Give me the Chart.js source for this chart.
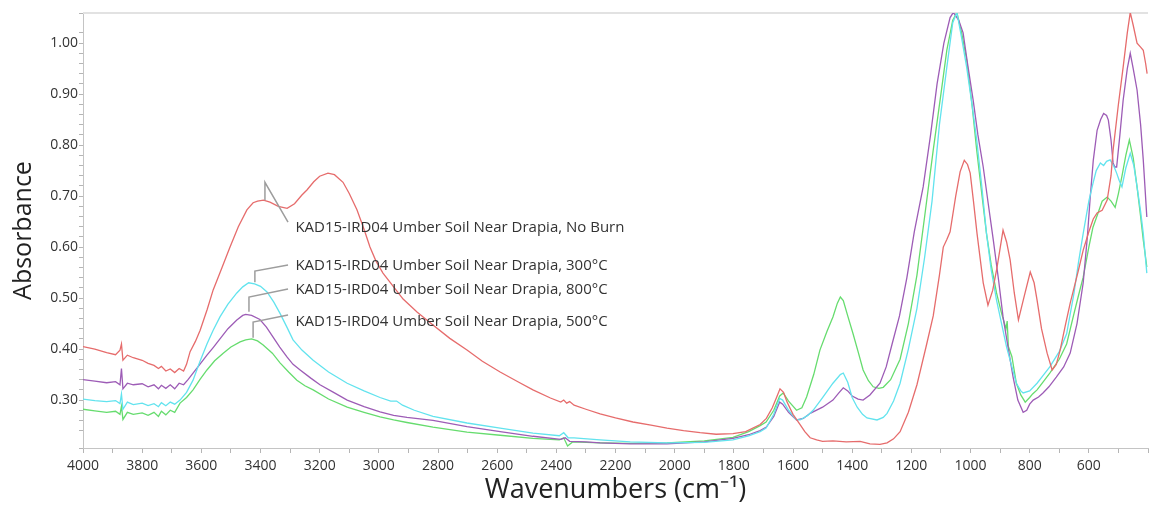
<!DOCTYPE html>
<html>
<head>
<meta charset="utf-8">
<title>KAD15-IRD04 FTIR spectra</title>
<script src="https://cdn.jsdelivr.net/npm/chart.js@4.4.1/dist/chart.umd.min.js"></script>
<style>
  html, body { margin: 0; padding: 0; background: #fff; }
  #wrap { width: 1153px; height: 507px; }
</style>
</head>
<body>
<div id="wrap"><canvas id="spectrum" width="1153" height="507"></canvas></div>
<script>
// Spectra, wavenumbers descending (cm-1) with absorbance

// No Burn (red)
const noBurnWn = [4000,3960,3920,3890,3875,3870,3865,3850,3830,3800,3780,3760,3745,3735,3720,3705,3690,3675,3660,3650,3638,3620,3604,3580,3560,3530,3503,3475,3446,3425,3410,3390,3368,3340,3310,3285,3260,3243,3220,3200,3172,3150,3121,3100,3074,3050,3030,3010,2986,2950,2918,2870,2817,2760,2702,2650,2590,2530,2479,2420,2385,2375,2365,2355,2340,2300,2252,2200,2141,2080,2026,1970,1914,1860,1803,1760,1711,1690,1670,1655,1644,1632,1620,1600,1576,1560,1542,1520,1500,1465,1420,1373,1340,1306,1282,1260,1238,1210,1181,1150,1126,1105,1092,1080,1069,1050,1035,1021,1010,1001,990,978,957,941,925,910,890,878,866,852,838,820,798,785,775,760,741,724,710,697,680,663,650,635,619,600,585,572,555,538,525,518,500,484,470,460,450,437,425,416,408,403];
const noBurnAbs = [0.405,0.400,0.393,0.389,0.398,0.410,0.378,0.388,0.383,0.378,0.372,0.368,0.362,0.366,0.357,0.361,0.354,0.362,0.357,0.370,0.395,0.415,0.437,0.478,0.516,0.560,0.600,0.640,0.673,0.687,0.690,0.692,0.688,0.680,0.676,0.685,0.702,0.712,0.728,0.739,0.745,0.742,0.727,0.705,0.673,0.635,0.600,0.573,0.549,0.522,0.498,0.472,0.447,0.421,0.398,0.376,0.355,0.336,0.320,0.304,0.296,0.300,0.294,0.297,0.290,0.282,0.273,0.265,0.257,0.251,0.245,0.240,0.236,0.233,0.234,0.238,0.252,0.264,0.285,0.306,0.322,0.315,0.296,0.272,0.252,0.238,0.226,0.222,0.219,0.220,0.218,0.219,0.214,0.213,0.216,0.224,0.238,0.276,0.330,0.405,0.465,0.545,0.600,0.615,0.630,0.700,0.748,0.770,0.762,0.745,0.690,0.627,0.530,0.486,0.515,0.561,0.633,0.610,0.575,0.510,0.457,0.500,0.551,0.530,0.496,0.440,0.392,0.359,0.370,0.398,0.445,0.490,0.520,0.555,0.594,0.630,0.655,0.667,0.672,0.692,0.740,0.790,0.880,0.953,1.020,1.060,1.035,1.000,0.992,0.986,0.960,0.940];

// 300°C (cyan)
const burn300Wn = [4000,3960,3920,3890,3875,3870,3865,3850,3830,3800,3780,3760,3745,3735,3720,3705,3690,3672,3650,3628,3605,3581,3560,3537,3510,3480,3460,3440,3420,3400,3378,3355,3334,3310,3290,3260,3222,3170,3107,3050,2996,2960,2940,2920,2880,2817,2702,2590,2479,2390,2375,2360,2340,2252,2150,2026,1900,1803,1750,1711,1691,1665,1645,1635,1615,1590,1576,1550,1532,1500,1465,1440,1430,1415,1400,1383,1365,1350,1316,1295,1282,1260,1238,1210,1181,1155,1130,1105,1080,1060,1046,1030,1013,995,979,962,946,930,912,895,878,860,845,830,822,800,775,755,732,700,675,650,635,619,600,586,575,561,550,540,528,515,506,497,488,475,460,448,437,425,416,404];
const burn300Abs = [0.302,0.299,0.297,0.299,0.293,0.312,0.282,0.296,0.291,0.294,0.289,0.293,0.287,0.295,0.289,0.296,0.292,0.300,0.315,0.339,0.375,0.410,0.437,0.463,0.488,0.510,0.522,0.530,0.528,0.523,0.512,0.492,0.470,0.442,0.418,0.398,0.378,0.355,0.333,0.318,0.305,0.298,0.298,0.290,0.280,0.268,0.255,0.245,0.235,0.230,0.236,0.226,0.226,0.222,0.218,0.216,0.217,0.222,0.230,0.238,0.245,0.272,0.303,0.300,0.280,0.262,0.261,0.270,0.280,0.305,0.333,0.350,0.353,0.335,0.305,0.286,0.272,0.265,0.261,0.266,0.274,0.298,0.333,0.400,0.480,0.580,0.690,0.840,0.953,1.040,1.060,1.010,0.953,0.880,0.810,0.720,0.627,0.555,0.496,0.450,0.404,0.365,0.333,0.318,0.314,0.318,0.333,0.348,0.365,0.395,0.430,0.510,0.570,0.627,0.690,0.725,0.750,0.765,0.760,0.768,0.771,0.758,0.745,0.730,0.718,0.755,0.784,0.760,0.718,0.670,0.627,0.549];

// 800°C (purple)
const burn800Wn = [4000,3960,3920,3890,3875,3870,3865,3850,3830,3800,3780,3760,3745,3735,3720,3705,3690,3675,3660,3645,3628,3605,3581,3560,3537,3510,3480,3460,3450,3430,3402,3380,3358,3335,3310,3290,3266,3230,3199,3150,3107,3050,2996,2950,2905,2817,2702,2590,2479,2385,2370,2355,2300,2252,2150,2026,1900,1803,1750,1711,1690,1665,1645,1635,1615,1588,1565,1542,1500,1465,1445,1430,1415,1400,1380,1363,1340,1306,1285,1265,1240,1215,1190,1160,1135,1113,1090,1069,1058,1040,1025,1010,991,975,957,940,923,905,890,872,856,840,822,810,800,788,770,755,735,710,685,663,640,619,605,596,585,572,560,550,540,534,525,518,512,506,495,484,470,460,450,437,425,416,404];
const burn800Abs = [0.340,0.337,0.334,0.336,0.330,0.362,0.322,0.333,0.330,0.332,0.326,0.330,0.322,0.329,0.323,0.330,0.322,0.333,0.330,0.340,0.353,0.370,0.388,0.403,0.420,0.440,0.457,0.466,0.468,0.466,0.458,0.443,0.424,0.404,0.384,0.370,0.359,0.343,0.330,0.314,0.300,0.287,0.277,0.270,0.266,0.260,0.248,0.238,0.229,0.223,0.226,0.219,0.218,0.216,0.214,0.214,0.218,0.225,0.232,0.240,0.247,0.268,0.296,0.292,0.276,0.261,0.264,0.274,0.286,0.300,0.314,0.324,0.318,0.308,0.302,0.300,0.310,0.333,0.365,0.410,0.465,0.540,0.630,0.718,0.820,0.920,1.000,1.050,1.060,1.045,1.020,0.960,0.888,0.820,0.757,0.685,0.614,0.535,0.463,0.400,0.345,0.300,0.276,0.280,0.292,0.300,0.306,0.314,0.326,0.345,0.365,0.392,0.450,0.530,0.620,0.692,0.770,0.829,0.850,0.862,0.858,0.849,0.810,0.765,0.757,0.757,0.820,0.888,0.950,0.980,0.950,0.908,0.840,0.771,0.659];

// 500°C (green)
const burn500Wn = [4000,3960,3920,3890,3875,3870,3865,3850,3830,3800,3780,3760,3745,3735,3720,3705,3690,3672,3650,3628,3605,3581,3555,3526,3500,3469,3450,3430,3410,3391,3360,3334,3305,3277,3250,3222,3170,3107,3050,2996,2950,2905,2817,2702,2590,2479,2390,2375,2362,2345,2252,2150,2026,1900,1803,1750,1711,1691,1665,1645,1633,1615,1588,1570,1554,1530,1509,1485,1465,1450,1440,1430,1415,1397,1380,1363,1345,1329,1310,1295,1270,1238,1210,1181,1155,1126,1100,1080,1060,1046,1030,1013,995,979,962,946,930,912,895,880,876,872,860,845,830,815,800,790,775,755,732,700,675,650,635,619,600,586,570,555,538,525,511,500,488,475,463,450,437,425,416,404];
const burn500Abs = [0.282,0.279,0.276,0.278,0.272,0.288,0.262,0.276,0.272,0.275,0.270,0.276,0.268,0.278,0.271,0.280,0.276,0.294,0.305,0.320,0.340,0.359,0.377,0.392,0.404,0.414,0.418,0.420,0.416,0.408,0.392,0.373,0.355,0.339,0.328,0.320,0.302,0.286,0.276,0.267,0.261,0.256,0.247,0.237,0.231,0.225,0.222,0.226,0.210,0.218,0.216,0.215,0.216,0.220,0.227,0.238,0.250,0.257,0.280,0.308,0.314,0.298,0.280,0.285,0.306,0.350,0.398,0.435,0.463,0.490,0.502,0.495,0.465,0.430,0.395,0.359,0.338,0.326,0.323,0.325,0.340,0.380,0.450,0.545,0.660,0.790,0.900,0.986,1.045,1.060,1.020,0.967,0.880,0.790,0.705,0.627,0.565,0.510,0.470,0.440,0.455,0.405,0.385,0.333,0.310,0.296,0.305,0.312,0.320,0.335,0.353,0.380,0.410,0.470,0.505,0.541,0.600,0.639,0.665,0.690,0.698,0.690,0.678,0.705,0.739,0.780,0.810,0.775,0.718,0.660,0.614,0.561];

// Callout text and the gray leader lines that point at each curve
const tagLabels = [
    'KAD15-IRD04 Umber Soil Near Drapia, No Burn',
    'KAD15-IRD04 Umber Soil Near Drapia, 300°C',
    'KAD15-IRD04 Umber Soil Near Drapia, 800°C',
    'KAD15-IRD04 Umber Soil Near Drapia, 500°C'
];
const tagWavenumber = 3282;
const tagAbsorbance = [0.637, 0.563, 0.516, 0.453];
const leaderLines = [
    [[3307, 0.649], [3385, 0.727], [3385, 0.692]],
    [[3307, 0.565], [3419, 0.553], [3419, 0.531]],
    [[3307, 0.518], [3439, 0.502], [3439, 0.473]],
    [[3307, 0.467], [3425, 0.453], [3425, 0.422]]
];

function toPoints(wn, abs) {
    return wn.map((w, i) => ({ x: w, y: abs[i] }));
}

function spectrumSet(label, wn, abs, color) {
    return {
        label: label,
        data: toPoints(wn, abs),
        borderColor: color,
        borderWidth: 1.3,
        pointRadius: 0,
        tension: 0,
        fill: false
    };
}

const leaderSets = leaderLines.map((pts, i) => ({
    label: 'leader ' + i,
    data: pts.map(p => ({ x: p[0], y: p[1] })),
    borderColor: '#9d9d9d',
    borderWidth: 1.5,
    pointRadius: 0,
    tension: 0,
    fill: false
}));

// Write the sample names next to the leader lines
const seriesTagPlugin = {
    id: 'seriesTags',
    afterDatasetsDraw(chart) {
        const { ctx, scales: { x, y } } = chart;
        ctx.save();
        ctx.font = '15px "Open Sans", sans-serif';
        ctx.fillStyle = '#333';
        ctx.textBaseline = 'middle';
        tagLabels.forEach((txt, i) => {
            ctx.fillText(txt, x.getPixelForValue(tagWavenumber), y.getPixelForValue(tagAbsorbance[i]));
        });
        ctx.restore();
    }
};

// Light frame line along the top of the plot
const topRulePlugin = {
    id: 'topRule',
    beforeDatasetsDraw(chart) {
        const { ctx, chartArea } = chart;
        ctx.save();
        ctx.strokeStyle = '#e2e2e2';
        ctx.lineWidth = 2;
        ctx.beginPath();
        ctx.moveTo(chartArea.left, chartArea.top);
        ctx.lineTo(chartArea.right, chartArea.top);
        ctx.stroke();
        ctx.restore();
    }
};

Chart.defaults.font.family = '"Open Sans", sans-serif';

new Chart(document.getElementById('spectrum'), {
    type: 'line',
    data: {
        datasets: [
            ...leaderSets,
            spectrumSet('KAD15-IRD04 Umber Soil Near Drapia, No Burn', noBurnWn, noBurnAbs, '#e66c6c'),
            spectrumSet('KAD15-IRD04 Umber Soil Near Drapia, 300°C', burn300Wn, burn300Abs, '#62e3ee'),
            spectrumSet('KAD15-IRD04 Umber Soil Near Drapia, 800°C', burn800Wn, burn800Abs, '#9d5cb6'),
            spectrumSet('KAD15-IRD04 Umber Soil Near Drapia, 500°C', burn500Wn, burn500Abs, '#66dc6e')
        ]
    },
    options: {
        responsive: false,
        animation: false,
        devicePixelRatio: 1,
        layout: { padding: { top: 13, right: 5, left: 0, bottom: 0 } },
        plugins: {
            legend: { display: false },
            tooltip: { enabled: false }
        },
        scales: {
            x: {
                type: 'linear',
                reverse: true,
                min: 400,
                max: 4000,
                afterFit: (scale) => { scale.height = 59; },
                ticks: {
                    stepSize: 100,
                    autoSkip: false,
                    maxRotation: 0,
                    padding: 5,
                    color: '#333',
                    font: { size: 14 },
                    callback: (v) => (v % 200 === 0 && v >= 600) ? String(v) : ''
                },
                grid: { drawOnChartArea: false, tickLength: 5, color: '#b5b5b5' },
                border: { color: '#c4c4c4' },
                title: {
                    display: true,
                    text: 'Wavenumbers (cm⁻¹)',
                    color: '#222',
                    font: { size: 27 },
                    padding: { top: 0, bottom: 0 }
                }
            },
            y: {
                min: 0.206,
                max: 1.059,
                afterFit: (scale) => { scale.width = 83; },
                ticks: {
                    stepSize: 0.02,
                    autoSkip: false,
                    padding: 1,
                    color: '#333',
                    font: { size: 14 },
                    callback: (v) => {
                        const tenth = Math.round(v * 10);
                        if (Math.abs(v * 10 - tenth) < 1e-6 && tenth >= 3 && tenth <= 10) return (tenth / 10).toFixed(2);
                        return '';
                    }
                },
                grid: { drawOnChartArea: false, tickLength: 4, color: '#b5b5b5' },
                border: { color: '#c4c4c4' },
                title: {
                    display: true,
                    text: 'Absorbance',
                    color: '#222',
                    font: { size: 25 },
                    padding: { top: 9, bottom: 0 }
                }
            }
        }
    },
    plugins: [seriesTagPlugin, topRulePlugin]
});
</script>
</body>
</html>
